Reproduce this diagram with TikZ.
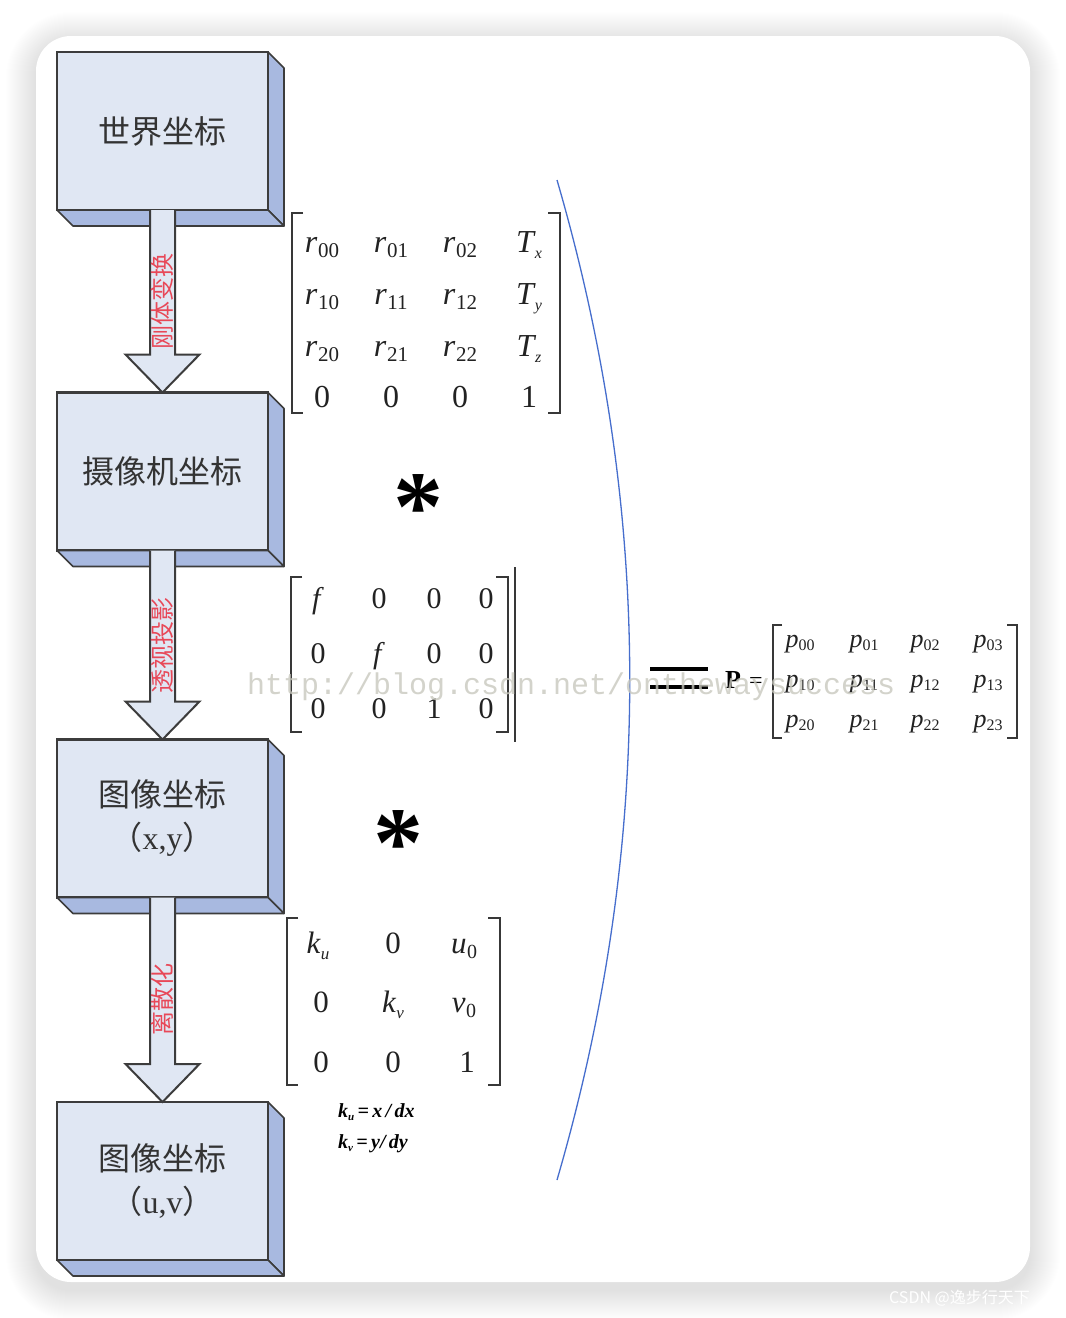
\documentclass[tikz,border=0pt]{standalone}
\usepackage{fontspec}
\setmainfont{Liberation Serif}
\newfontfamily\cjk{Noto Sans CJK SC}
\newfontfamily\wmfont{Liberation Mono}
\usetikzlibrary{calc}
\definecolor{frontc}{HTML}{E0E7F3}
\definecolor{sidec}{HTML}{A8B9E0}
\definecolor{edgec}{HTML}{3C3C3C}
\definecolor{redc}{RGB}{232,72,88}
\definecolor{bluec}{RGB}{70,110,205}
\definecolor{inkc}{HTML}{222222}
\definecolor{wmc}{RGB}{200,200,190}
% matrix entries
\newcommand\ra[2]{\textit{#1}\kern0.5pt\raisebox{-5pt}{\fontsize{21}{21}\selectfont #2}}
\newcommand\Tsb[1]{\textit{T}\kern-1pt\raisebox{-6pt}{\fontsize{16}{16}\selectfont\textit{#1}}}
\newcommand\kk[1]{\textit{k}\kern0pt\raisebox{-6pt}{\fontsize{17}{17}\selectfont\textit{#1}}}
\newcommand\uz[1]{\textit{#1}\kern0.5pt\raisebox{-5pt}{\fontsize{20}{20}\selectfont 0}}
\newcommand\pp[1]{\textit{p}\kern0pt\raisebox{-3pt}{\fontsize{16}{16}\selectfont #1}}
\begin{document}
\begin{tikzpicture}[x=1pt,y=-1pt,
  box/.style={draw=edgec,line width=2.2pt,fill=frontc,minimum width=211pt,minimum height=158pt,
    inner sep=0pt,outer sep=0pt,text=black!80,align=center,font=\fontsize{32}{43}\selectfont},
  side/.style={draw=edgec,line width=1.6pt,fill=sidec,line join=round},
  bigarrow/.style={draw=edgec,line width=2pt,fill=frontc,line join=miter},
  lbl/.style={text=redc,font=\cjk\fontsize{24}{24}\selectfont,inner sep=0pt},
  brk/.style={draw=inkc!90,line width=1.8pt},
  m1/.style={anchor=base,inner sep=0pt,text=inkc,font=\fontsize{32}{32}\selectfont},
  m2/.style={anchor=base,inner sep=0pt,text=inkc,font=\fontsize{30}{30}\selectfont},
  m3/.style={anchor=base,inner sep=0pt,text=inkc,font=\fontsize{31}{31}\selectfont},
  mp/.style={anchor=base,inner sep=0pt,text=inkc,font=\fontsize{26}{26}\selectfont},
  ast/.style={anchor=base,inner sep=0pt,text=black,font=\bfseries\fontsize{100}{100}\selectfont},
  keq/.style={anchor=base west,inner sep=0pt,text=black,font=\bfseries\itshape\fontsize{20}{20}\selectfont},
]
\useasboundingbox (0,0) rectangle (1066,1318);
\fill[white] (0,0) rectangle (1066,1318);
% shadow
\foreach \i in {1,...,30}{
  \pgfmathsetmacro\rc{35+\i}
  \fill[black,opacity=0.005,rounded corners=\rc pt] (36-\i,42-\i) rectangle (1030+\i,1290+\i);
}
\fill[white,rounded corners=35pt] (36,36) rectangle (1030,1282);

% boxes
\node[box] (b1) at (162.5,131) {\cjk 世界坐标};
\node[box] (b2) at (162.5,471.5) {\cjk 摄像机坐标};
\node[box] (b3) at (162.5,818.5) {\cjk 图像坐标\\{\cjk （}x,y{\cjk ）}};
\node[box] (b4) at (162.5,1181) {\cjk 图像坐标\\{\cjk （}u,v{\cjk ）}};
\foreach \b in {b1,b2,b3,b4}{
  \filldraw[side] (\b.north east) -- ++(16,16) -- ($(\b.south east)+(16,16)$) -- (\b.south east) -- cycle;
  \filldraw[side] (\b.south west) -- ++(16,16) -- ($(\b.south east)+(16,16)$) -- (\b.south east) -- cycle;
}
% arrows
\foreach \a/\b in {b1/b2,b2/b3,b3/b4}{
  \filldraw[bigarrow] ([xshift=-12.5pt]\a.south) -- ([xshift=-12.5pt,yshift=38pt]\b.north)
    -- ([xshift=-37pt,yshift=38pt]\b.north) -- (\b.north) -- ([xshift=37pt,yshift=38pt]\b.north)
    -- ([xshift=12.5pt,yshift=38pt]\b.north) -- ([xshift=12.5pt]\a.south);
}
\node[lbl,rotate=90] (t1) at ($(b1.south)!0.5!(b2.north)$) {刚体变换};
\node[lbl,rotate=90] (t2) at ($(b2.south)!0.5!(b3.north)$) {透视投影};
\node[lbl,rotate=90] (t3) at ($(b3.south)!0.5!(b4.north)$) {离散化};

% matrix 1
\draw[brk] (303,213) -- (292,213) -- (292,413) -- (303,413);
\draw[brk] (548,213) -- (560,213) -- (560,413) -- (548,413);
\node[m1] (a00) at (322,252) {\ra{r}{00}};
\node[m1] (a01) at (391,252) {\ra{r}{01}};
\node[m1] (a02) at (460,252) {\ra{r}{02}};
\node[m1] (a03) at (529,252) {\Tsb{x}};
\node[m1] (a10) at (322,304) {\ra{r}{10}};
\node[m1] (a11) at (391,304) {\ra{r}{11}};
\node[m1] (a12) at (460,304) {\ra{r}{12}};
\node[m1] (a13) at (529,304) {\Tsb{y}};
\node[m1] (a20) at (322,356) {\ra{r}{20}};
\node[m1] (a21) at (391,356) {\ra{r}{21}};
\node[m1] (a22) at (460,356) {\ra{r}{22}};
\node[m1] (a23) at (529,356) {\Tsb{z}};
\node[m1] (a30) at (322,407) {0};
\node[m1] (a31) at (391,407) {0};
\node[m1] (a32) at (460,407) {0};
\node[m1] (a33) at (529,407) {1};

\node[ast] (s1) at (418,540) {*};

% matrix 2
\draw[brk] (302,577) -- (291,577) -- (291,732) -- (302,732);
\draw[brk] (496,577) -- (508,577) -- (508,732) -- (496,732);
\draw[brk] (515,567) -- (515,742);
\node[m2] (c00) at (318,608) {\textit{f}};
\node[m2] (c01) at (379,608) {0};
\node[m2] (c02) at (434,608) {0};
\node[m2] (c03) at (486,608) {0};
\node[m2] (c10) at (318,663) {0};
\node[m2] (c11) at (379,663) {\textit{f}};
\node[m2] (c12) at (434,663) {0};
\node[m2] (c13) at (486,663) {0};
\node[m2] (c20) at (318,718) {0};
\node[m2] (c21) at (379,718) {0};
\node[m2] (c22) at (434,718) {1};
\node[m2] (c23) at (486,718) {0};

\node[ast] (s2) at (398,876) {*};

% matrix 3
\draw[brk] (298,918) -- (287,918) -- (287,1085) -- (298,1085);
\draw[brk] (488,918) -- (500,918) -- (500,1085) -- (488,1085);
\node[m3] (k00) at (318,953) {\kk{u}};
\node[m3] (k01) at (393,953) {0};
\node[m3] (k02) at (464,953) {\uz{u}};
\node[m3] (k10) at (321,1012) {0};
\node[m3] (k11) at (393,1012) {\kk{v}};
\node[m3] (k12) at (464,1012) {\uz{v}};
\node[m3] (k20) at (321,1072) {0};
\node[m3] (k21) at (393,1072) {0};
\node[m3] (k22) at (467,1072) {1};
\node[keq] (ku) at (338,1117) {k\raisebox{-3pt}{\fontsize{11}{11}\selectfont u}\,=\,x\,/\,dx};
\node[keq] (kv) at (338,1148) {k\raisebox{-3pt}{\fontsize{11}{11}\selectfont v}\,=\,y/\,dy};

% big bracket
\draw[bluec,line width=1.3pt] (557,180) .. controls (654,513) and (654,847) .. (557,1180);

% result
\draw[line width=4.5pt,black] (650,669) -- (708,669);
\draw[line width=4.5pt,black] (650,687) -- (708,687);
\node[anchor=base,inner sep=0pt,font=\bfseries\fontsize{26}{26}\selectfont] (P) at (733,688) {P};
\node[anchor=base,inner sep=0pt,font=\fontsize{24}{24}\selectfont] (eq) at (756,688) {=};
\draw[brk,line width=1.5pt] (782,625) -- (773,625) -- (773,738) -- (782,738);
\draw[brk,line width=1.5pt] (1007,625) -- (1017,625) -- (1017,738) -- (1007,738);
\node[mp] (p00) at (800,647) {\pp{00}};
\node[mp] (p01) at (864,647) {\pp{01}};
\node[mp] (p02) at (925,647) {\pp{02}};
\node[mp] (p03) at (988,647) {\pp{03}};
\node[mp] (p10) at (800,687) {\pp{10}};
\node[mp] (p11) at (864,687) {\pp{11}};
\node[mp] (p12) at (925,687) {\pp{12}};
\node[mp] (p13) at (988,687) {\pp{13}};
\node[mp] (p20) at (800,727) {\pp{20}};
\node[mp] (p21) at (864,727) {\pp{21}};
\node[mp] (p22) at (925,727) {\pp{22}};
\node[mp] (p23) at (988,727) {\pp{23}};

% watermark
\node[anchor=base west,inner sep=0pt,text=wmc,opacity=0.8,font=\wmfont\fontsize{30}{30}\selectfont] (wm) at (247,694) {http://blog.csdn.net/onthewaysuccess};
\node[anchor=base east,inner sep=0pt,text=white,font=\cjk\fontsize{16}{16}\selectfont] (csdn) at (1030,1303) {CSDN @逸步行天下};
\end{tikzpicture}
\end{document}
